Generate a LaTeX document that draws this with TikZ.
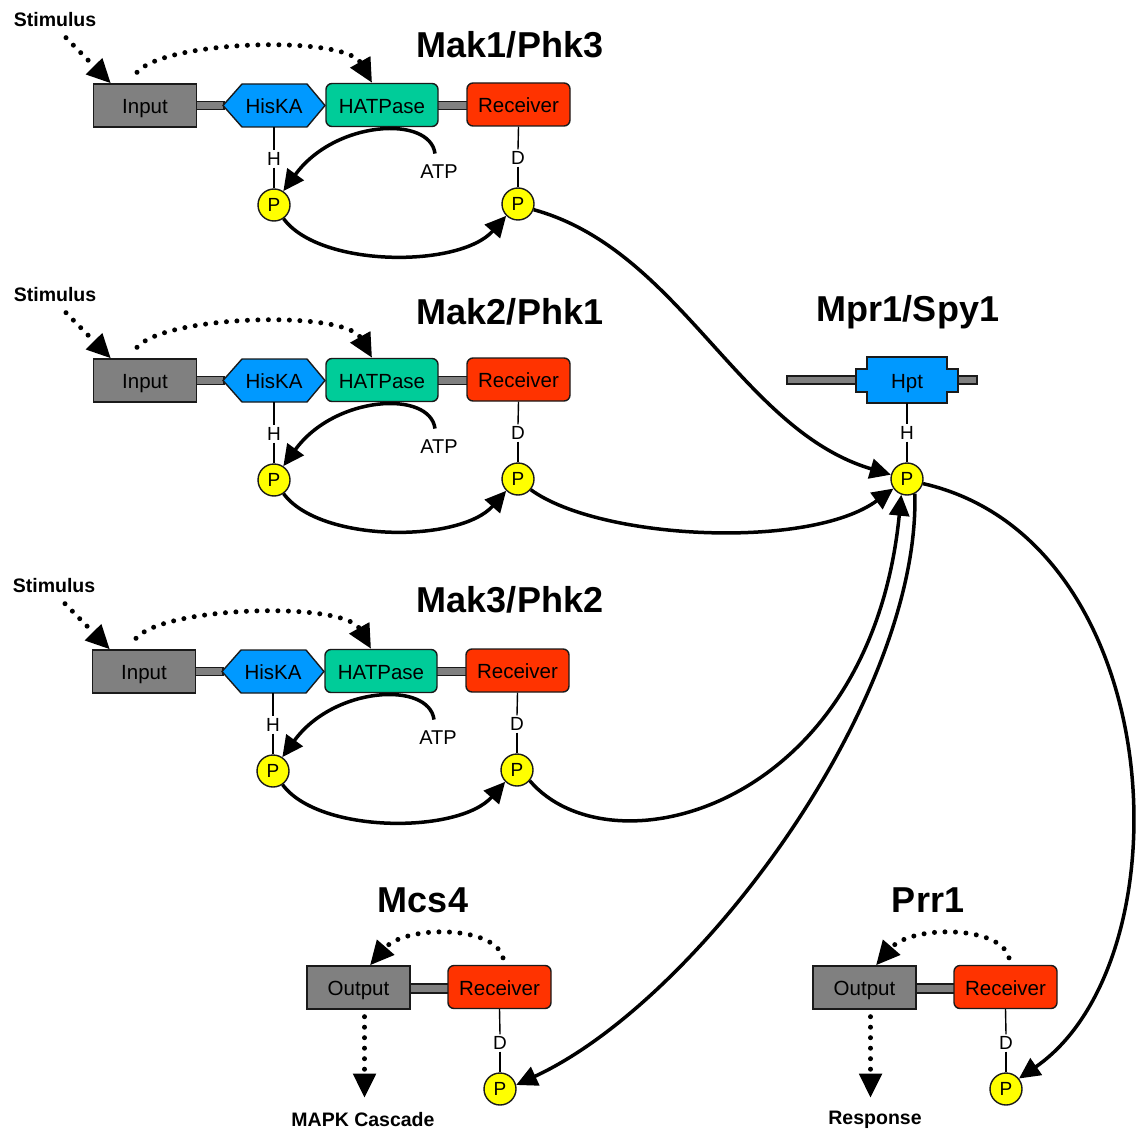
\documentclass[tikz,border=0pt]{standalone}
\usepackage{fontspec}
\setmainfont{Liberation Sans}
\usetikzlibrary{arrows.meta}
\definecolor{inputgrey}{RGB}{128,128,128}
\definecolor{hisblue}{RGB}{0,153,255}
\definecolor{hatgreen}{RGB}{0,204,153}
\definecolor{recvred}{RGB}{255,51,0}
\definecolor{phosyellow}{RGB}{255,255,0}
\definecolor{outline}{RGB}{26,26,26}
\newcommand\fsz[1]{\fontsize{#1}{#1}\selectfont}
\begin{document}
\begin{tikzpicture}[x=1pt,y=-1pt,
  boxtext/.style={inner sep=0pt,font=\fsz{20.5},text height=16.7pt,text depth=0pt},
  box/.style={boxtext,draw=outline,line width=1.4pt,minimum width=103pt,minimum height=43pt},
  greybox/.style={box,fill=inputgrey},
  recv/.style={box,fill=recvred,rounded corners=6pt},
  hat/.style={box,fill=hatgreen,rounded corners=6pt,minimum width=112pt},
  domainpath/.style={draw=outline,line width=1.4pt,fill=hisblue},
  linker/.style={draw=outline,fill=inputgrey,line width=1.2pt},
  phos/.style={circle,draw=outline,fill=phosyellow,line width=1.4pt,minimum size=32pt,inner sep=0pt,font=\fsz{19}},
  res/.style={font=\fsz{19},inner sep=2pt},
  stem/.style={line width=1.4pt},
  conn/.style={line width=3.5pt,-{Triangle[length=21pt,width=20pt]}},
  dotflow/.style={line width=5pt,line cap=round,dash pattern=on 0pt off 10.5pt,-{Triangle[length=24pt,width=22pt]}},
  lbl/.style={font=\bfseries\fsz{19.5}},
  title/.style={font=\bfseries\fsz{36}}
]
\useasboundingbox (0,0) rectangle (1136,1147);

% sensor kinases: Input - HisKA - HATPase - Receiver
\foreach \m/\dx/\dy in {1/0/0, 2/0/275, 3/-1/566}{
  \begin{scope}[shift={(\dx,\dy)}]
    \node[lbl] (m\m-stim) at (55,20) {Stimulus};
    \draw[linker] (196,101.5) rectangle (224,109.5);
    \draw[linker] (437,101.5) rectangle (468,109.5);
    \node[greybox] (m\m-input) at (145,105.5) {Input};
    \draw[domainpath] (223,105.5) -- (242,84) -- (307,84) -- (325,105.5) -- (307,127) -- (242,127) -- cycle;
    \node[boxtext,minimum width=102pt,minimum height=43pt] (m\m-hiska) at (274,105.5) {HisKA};
    \node[hat] (m\m-hat) at (382,105) {HATPase};
    \node[recv] (m\m-recv) at (518.5,104.5) {Receiver};
    \node[res] (m\m-h) at (274,159) {H};
    \node[phos] (m\m-ph) at (274,205) {P};
    \node[res] (m\m-d) at (518,158) {D};
    \node[phos] (m\m-pd) at (518,204) {P};
    \node[font=\fsz{20}] (m\m-atp) at (439,172) {ATP};
    % residue stems
    \draw[stem] (m\m-hiska.south) -- (m\m-h.north);
    \draw[stem] (m\m-h.south) -- (m\m-ph.north);
    \draw[stem] (m\m-recv.south) -- (m\m-d.north);
    \draw[stem] (m\m-d.south) -- (m\m-pd.north);
    % signalling
    \draw[dotflow] ([shift={(11,7)}]m\m-stim.south) -- ([xshift=18pt]m\m-input.north west);
    \draw[dotflow] ([shift={(-8,-11)}]m\m-input.north) .. controls (165,40) and (345,35) .. ([xshift=-10pt]m\m-hat.north);
    \draw[conn] ([shift={(-4,-8)}]m\m-atp.north) .. controls (430,115) and (335,120) .. (m\m-ph.56);
    \draw[conn] (m\m-ph.-55) .. controls (320,268) and (460,268) .. (m\m-pd.-135);
  \end{scope}
}

\node[title] (t1) at (510,45) {Mak1/Phk3};
\node[title] (t2) at (510,312) {Mak2/Phk1};
\node[title] (t3) at (510,600) {Mak3/Phk2};
\node[title] (t4) at (908,312) {Mpr1/Spy1};
\node[title] (t5) at (423,900) {Mcs4};
\node[title] (t6) at (928,900) {Prr1};

% phosphotransfer protein
\draw[linker] (787,376) rectangle (977,384);
\draw[domainpath] (856,369) -- (867,369) -- (867,357) -- (947,357) -- (947,369) -- (958,369)
  -- (958,392) -- (947,392) -- (947,403) -- (867,403) -- (867,392) -- (856,392) -- cycle;
\node[boxtext,minimum width=80pt,minimum height=46pt] (hpt) at (907,380) {Hpt};
\node[res] (mh) at (907,433) {H};
\node[phos] (mp) at (907,479) {P};
\draw[stem] (hpt.south) -- (mh.north);
\draw[stem] (mh.south) -- (mp.north);

% response regulators: Output - Receiver
\foreach \r/\dx in {1/0, 2/506}{
  \begin{scope}[shift={(\dx,0)}]
    \draw[linker] (409,984) rectangle (449,993);
    \node[greybox] (r\r-out) at (358.5,987.5) {Output};
    \node[recv] (r\r-recv) at (499.5,987) {Receiver};
    \node[res] (r\r-d) at (500,1043) {D};
    \node[phos] (r\r-p) at (500,1089) {P};
    \draw[stem] (r\r-recv.south) -- (r\r-d.north);
    \draw[stem] (r\r-d.south) -- (r\r-p.north);
    \draw[dotflow] ([shift={(3.5,-7)}]r\r-recv.north) .. controls (495,925) and (405,925) .. ([xshift=11.5pt]r\r-out.north);
    \draw[dotflow] ([shift={(6,7)}]r\r-out.south) -- ([shift={(6,88)}]r\r-out.south);
  \end{scope}
}
\node[lbl] (mapk) at (363,1120) {MAPK Cascade};
\node[lbl] (resp) at (875,1120) {Response};

% phosphorelay
\draw[conn] (m1-pd.-20) .. controls (680,250) and (740,430) .. (mp.165);
\draw[conn] (m2-pd.-40) .. controls (600,540) and (810,550) .. (mp.-145);
\draw[conn] (m3-pd.-40) .. controls (610,875) and (870,810) .. (mp.-110);
\draw[conn] (mp.-62) .. controls (920,700) and (700,1000) .. (r1-p.14);
\draw[conn] (mp.-16) .. controls (1170,540) and (1190,960) .. (r2-p.39);
\end{tikzpicture}
\end{document}
